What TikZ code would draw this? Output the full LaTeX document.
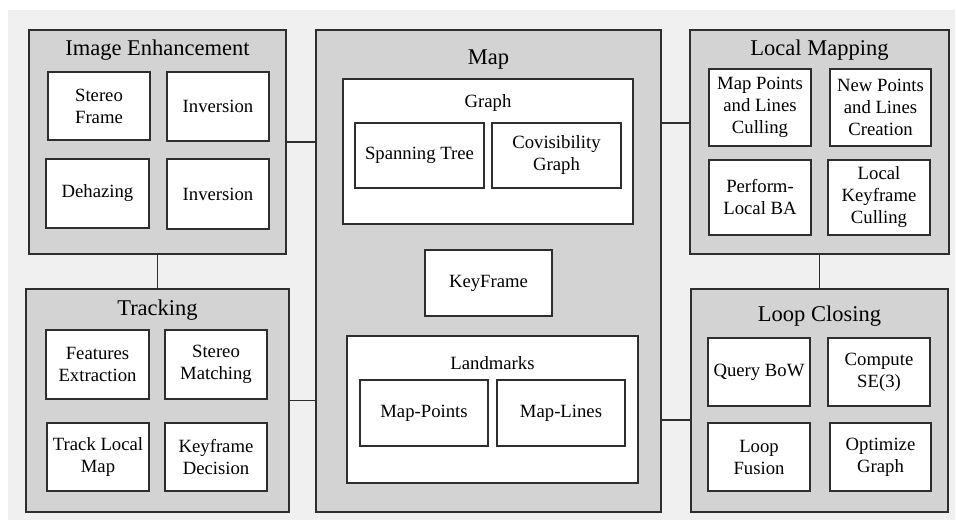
\documentclass[tikz,border=0pt]{standalone}
\usepackage{fontspec}
\setmainfont{LiberationSerif}[Extension=.ttf, UprightFont=*-Regular, BoldFont=*-Bold]
\definecolor{edge}{HTML}{2E2E2E}
\definecolor{modfill}{HTML}{D3D3D3}
\definecolor{paper}{HTML}{F0F0F0}
\tikzset{
  group/.style={draw=edge, fill=modfill, line width=1.4pt, inner sep=0pt},
  part/.style={draw=edge, fill=white, line width=1.4pt, inner sep=0pt, align=center,
    font=\fontsize{18.7}{22}\selectfont},
  title/.style={inner sep=0pt, font=\fontsize{22.5}{27}\selectfont},
  sub title/.style={inner sep=0pt, font=\fontsize{18.7}{22}\selectfont},
  link/.style={draw=edge, line width=1.4pt}
}
\begin{document}
\begin{tikzpicture}[x=1pt,y=-1pt]
    \useasboundingbox (0,0) rectangle (957,522);
    \fill[paper] (8,10) rectangle (955,520);

    % image enhancement
    \node [group, minimum width=257, minimum height=224] (ie) at (157.5,142) {};
    \node [title] (ietitle) at (157.5,50) {Image Enhancement};
    \node [part, minimum width=102, minimum height=68] (sf) at (99,106) {Stereo\\Frame};
    \node [part, minimum width=102, minimum height=69] (inva) at (218,106.5) {Inversion};
    \node [part, minimum width=103, minimum height=69] (deh) at (97.5,193.5) {Dehazing};
    \node [part, minimum width=102, minimum height=70] (invb) at (218,194) {Inversion};

    % tracking
    \node [group, minimum width=263, minimum height=223] (trk) at (157.5,400.5) {};
    \node [title] (trktitle) at (157.5,310) {Tracking};
    \node [part, minimum width=103, minimum height=69] (fe) at (97.5,364.5) {Features\\Extraction};
    \node [part, minimum width=102, minimum height=69] (sm) at (216,364.5) {Stereo\\Matching};
    \node [part, minimum width=102, minimum height=68] (tlm) at (98,457) {Track Local\\Map};
    \node [part, minimum width=102, minimum height=68] (kd) at (216,457) {Keyframe\\Decision};

    % map
    \node [group, minimum width=345, minimum height=482] (map) at (488.5,271) {};
    \node [title] (maptitle) at (488.5,60) {Map};
    \node [part, minimum width=290, minimum height=145] (graph) at (488,151.5) {};
    \node [sub title] (graphtitle) at (488,103) {Graph};
    \node [part, minimum width=129, minimum height=65] (st) at (419.5,155.5) {Spanning Tree};
    \node [part, minimum width=129, minimum height=65] (cg) at (556.5,155.5) {Covisibility\\Graph};
    \node [part, minimum width=127, minimum height=66] (kf) at (488.5,283) {KeyFrame};
    \node [part, minimum width=291, minimum height=147] (lmk) at (492.5,409.5) {};
    \node [sub title] (lmktitle) at (492.5,363) {Landmarks};
    \node [part, minimum width=128, minimum height=66] (mp) at (424,413) {Map-Points};
    \node [part, minimum width=128, minimum height=66] (ml) at (561,413) {Map-Lines};

    % local mapping
    \node [group, minimum width=259, minimum height=224] (lm) at (819.5,142) {};
    \node [title] (lmtitle) at (819.5,50) {Local Mapping};
    \node [part, minimum width=102, minimum height=77] (mpc) at (760,107.5) {Map Points\\and Lines\\Culling};
    \node [part, minimum width=101, minimum height=77] (npc) at (880.5,107.5) {New Points\\and Lines\\Creation};
    \node [part, minimum width=102, minimum height=75] (plb) at (760,197.5) {Perform-\\Local BA};
    \node [part, minimum width=102, minimum height=75] (lkc) at (879,197.5) {Local\\Keyframe\\Culling};

    % loop closing
    \node [group, minimum width=257, minimum height=223] (lc) at (819.5,400.5) {};
    \node [title] (lctitle) at (819.5,316) {Loop Closing};
    \node [part, minimum width=102, minimum height=68] (qb) at (759,372) {Query BoW};
    \node [part, minimum width=102, minimum height=68] (cs) at (879,372) {Compute\\SE(3)};
    \node [part, minimum width=102, minimum height=68] (lf) at (759,457) {Loop\\Fusion};
    \node [part, minimum width=101, minimum height=68] (og) at (880.5,457) {Optimize\\Graph};

    % links
    \coordinate (lmin) at ([yshift=19pt]lm.west);
    \coordinate (lcin) at ([yshift=-19.5pt]lc.west);
    \draw [link] (ie) -- (trk);
    \draw [link] (lm) -- (lc);
    \draw [link] (ie) -- (ie -| map.west);
    \draw [link] (trk) -- (trk -| map.west);
    \draw [link] (lmin) -- (lmin -| map.east);
    \draw [link] (lcin) -- (lcin -| map.east);
\end{tikzpicture}
\end{document}
